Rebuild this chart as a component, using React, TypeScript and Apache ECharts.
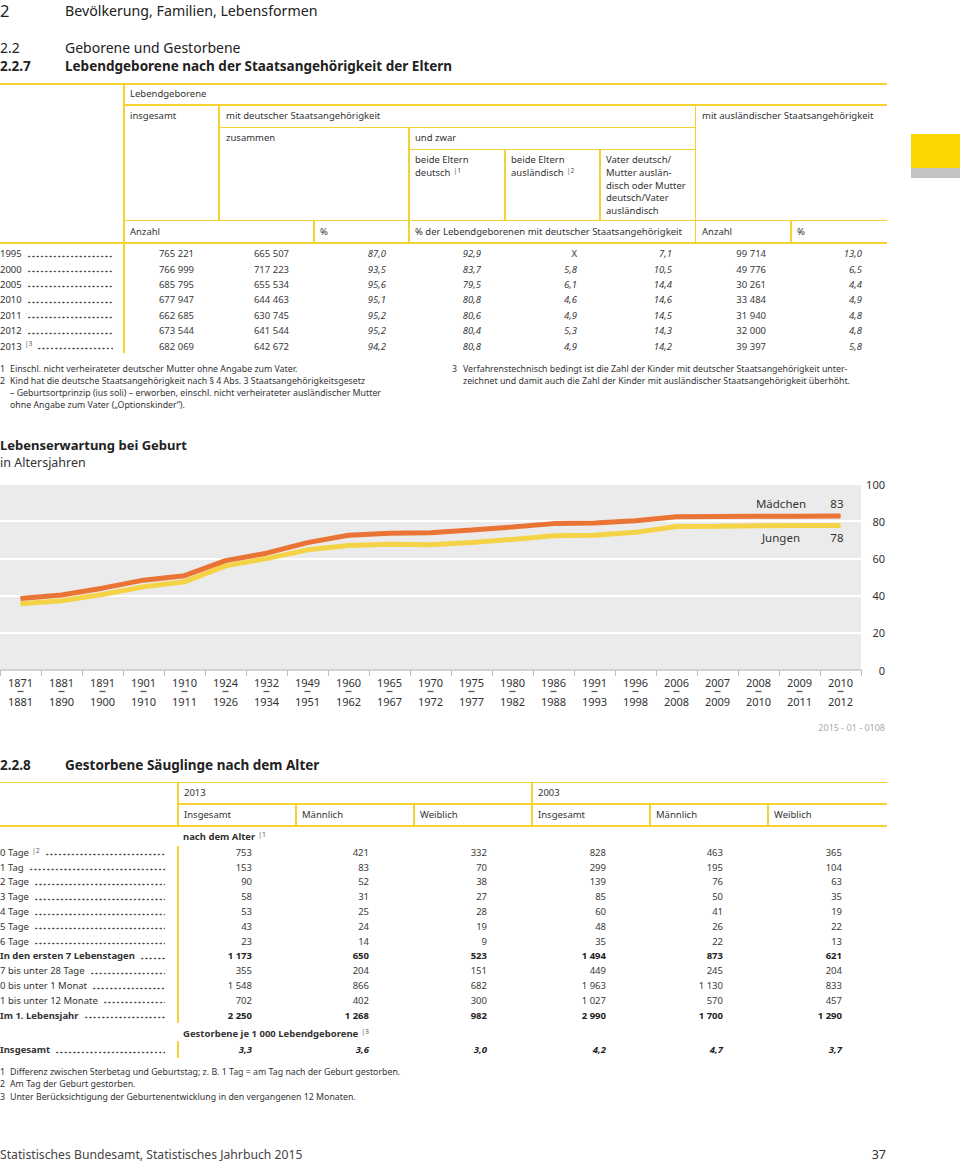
import React, { useEffect, useRef } from "react";
import * as echarts from "echarts";

// ---------- Chart data: Lebenserwartung bei Geburt ----------
const periodStart = ["1871","1881","1891","1901","1910","1924","1932","1949","1960","1965","1970","1975","1980","1986","1991","1996","2006","2007","2008","2009","2010"];
const periodEnd = ["1881","1890","1900","1910","1911","1926","1934","1951","1962","1967","1972","1977","1982","1988","1993","1998","2008","2009","2010","2011","2012"];
const girls = [38.5, 40.3, 44.0, 48.3, 50.7, 58.8, 62.8, 68.5, 72.4, 73.5, 73.8, 75.3, 76.9, 78.7, 79.0, 80.3, 82.4, 82.5, 82.6, 82.7, 82.8];
const boys = [35.6, 37.2, 40.6, 44.8, 47.4, 56.0, 59.9, 64.6, 66.9, 67.6, 67.4, 68.6, 70.2, 72.2, 72.5, 74.0, 77.2, 77.3, 77.5, 77.7, 77.7];
const girlsName = "Mädchen";
const boysName = "Jungen";
const girlsEnd = "83";
const boysEnd = "78";

// ---------- Table 2.2.7 ----------
const years227 = ["1995", "2000", "2005", "2010", "2011", "2012", "2013"];
const insgesamt227 = [765221, 766999, 685795, 677947, 662685, 673544, 682069];
const deutschAnzahl = [665507, 717223, 655534, 644463, 630745, 641544, 642672];
const deutschPct = [87.0, 93.5, 95.6, 95.1, 95.2, 95.2, 94.2];
const beideDeutsch = [92.9, 83.7, 79.5, 80.8, 80.6, 80.4, 80.8];
const beideAusl = [null, 5.8, 6.1, 4.6, 4.9, 5.3, 4.9];
const gemischt = [7.1, 10.5, 14.4, 14.6, 14.5, 14.3, 14.2];
const auslAnzahl = [99714, 49776, 30261, 33484, 31940, 32000, 39397];
const auslPct = [13.0, 6.5, 4.4, 4.9, 4.8, 4.8, 5.8];

// ---------- Table 2.2.8 ----------
const ageLabels = ["0 Tage", "1 Tag", "2 Tage", "3 Tage", "4 Tage", "5 Tage", "6 Tage", "In den ersten 7 Lebenstagen", "7 bis unter 28 Tage", "0 bis unter 1 Monat", "1 bis unter 12 Monate", "Im 1. Lebensjahr"];
const ageBold = [false, false, false, false, false, false, false, true, false, false, false, true];
const ins2013 = [753, 153, 90, 58, 53, 43, 23, 1173, 355, 1548, 702, 2250];
const mae2013 = [421, 83, 52, 31, 25, 24, 14, 650, 204, 866, 402, 1268];
const wei2013 = [332, 70, 38, 27, 28, 19, 9, 523, 151, 682, 300, 982];
const ins2003 = [828, 299, 139, 85, 60, 48, 35, 1494, 449, 1963, 1027, 2990];
const mae2003 = [463, 195, 76, 50, 41, 26, 22, 873, 245, 1130, 570, 1700];
const wei2003 = [365, 104, 63, 35, 19, 22, 13, 621, 204, 833, 457, 1290];
const rate = [3.3, 3.6, 3.0, 4.2, 4.7, 3.7];

const FONT = '"Noto Sans", "DejaVu Sans", sans-serif';
const YEL = "#f5d232";
const TXT = "#333";

const fmtInt = (n: number) => String(n).replace(/\B(?=(\d{3})+(?!\d))/g, " ");
const fmtDec = (n: number | null) => (n === null ? "X" : n.toFixed(1).replace(".", ","));

function T(p: any) {
  const size = p.size || 9.5;
  const st: any = {
    position: "absolute",
    top: p.y - size * 0.72,
    fontSize: size,
    lineHeight: `${Math.round(size * 1.4)}px`,
    whiteSpace: "nowrap",
    color: p.color || TXT,
    fontWeight: p.bold ? 700 : 400,
    fontStyle: p.italic ? "italic" : "normal",
  };
  if (p.align === "right") st.right = 960 - p.x;
  else st.left = p.x;
  return <div style={st}>{p.children}</div>;
}

function Sup({ n }: { n: string }) {
  return (
    <span style={{ fontSize: "0.72em", position: "relative", top: "-0.45em", lineHeight: 0, marginLeft: 3, color: "#555", fontWeight: 400 }}>
      |{n}
    </span>
  );
}

function HL({ x1, x2, y }: any) {
  return <div style={{ position: "absolute", left: x1, top: y - 0.75, width: x2 - x1, height: 1.5, background: YEL }} />;
}
function VL({ x, y1, y2 }: any) {
  return <div style={{ position: "absolute", left: x - 0.75, top: y1, width: 1.5, height: y2 - y1, background: YEL }} />;
}

// Row label followed by a dotted leader (dots drawn as a background, not as text)
function Leader({ x, y, w, bold, children, size = 9.5 }: any) {
  const lh = Math.round(size * 1.4);
  return (
    <div style={{ position: "absolute", left: x, top: y - size * 0.72, width: w, height: lh, display: "flex", whiteSpace: "nowrap", fontSize: size, lineHeight: `${lh}px`, color: TXT, fontWeight: bold ? 700 : 400 }}>
      <span>{children}</span>
      <span
        style={{
          flex: 1,
          marginLeft: 5,
          marginTop: lh - 5.5,
          height: 3,
          backgroundImage: "radial-gradient(circle, #444 0.8px, rgba(255,255,255,0) 1.1px)",
          backgroundSize: "4.3px 3px",
          backgroundRepeat: "repeat-x",
        }}
      />
    </div>
  );
}

function Chart() {
  const ref = useRef<HTMLDivElement>(null);
  useEffect(() => {
    if (!ref.current) return;
    const chart = echarts.init(ref.current, undefined, { renderer: "svg" });
    const last = girls.length - 1;
    const labelRich = {
      n: { width: 101, fontSize: 11.5, color: TXT, fontFamily: FONT },
      v: { width: 12, align: "right", fontSize: 11.5, color: TXT, fontFamily: FONT },
    };
    chart.setOption({
      animation: false,
      textStyle: { fontFamily: FONT },
      title: [
        { text: "Lebenserwartung bei Geburt", left: 0, top: 8, padding: 0, textStyle: { fontSize: 13, fontWeight: "bold", color: "#222", fontFamily: FONT } },
        { text: "in Altersjahren", left: 0, top: 26, padding: 0, textStyle: { fontSize: 12.5, fontWeight: "normal", color: "#333", fontFamily: FONT } },
        { text: "2015 - 01 - 0108", right: 75, top: 293, padding: 0, textStyle: { fontSize: 9, fontWeight: "normal", color: "#aaa", fontFamily: FONT } },
      ],
      grid: { left: 0, right: 99, top: 54, height: 186, show: true, backgroundColor: "#ebebeb", borderWidth: 0 },
      xAxis: {
        type: "category",
        data: periodStart.map((s, i) => s + "–" + periodEnd[i]),
        boundaryGap: true,
        axisLine: { lineStyle: { color: "#c4c4c4", width: 1.5 } },
        axisTick: { show: true, length: 6, interval: 0, lineStyle: { color: "#bdbdbd" } },
        axisLabel: {
          interval: 0,
          margin: 6,
          color: TXT,
          fontFamily: FONT,
          formatter: (v: string) => {
            const [a, b] = v.split("–");
            return `{a|${a}}\n{d| }\n{a|${b}}`;
          },
          rich: {
            a: { fontSize: 11, lineHeight: 12, color: TXT, fontFamily: FONT },
            d: { fontSize: 1, lineHeight: 7, width: 6, height: 1.3, backgroundColor: "#555" },
          },
        },
      },
      yAxis: {
        type: "value",
        min: 0,
        max: 100,
        interval: 20,
        position: "right",
        axisLine: { show: false },
        axisTick: { show: false },
        splitLine: { lineStyle: { color: "#ffffff", width: 2 } },
        axisLabel: { fontSize: 11, color: TXT, align: "right", margin: 24, fontFamily: FONT },
      },
      series: [
        {
          name: boysName,
          type: "line",
          symbol: "circle",
          symbolSize: 1,
          showSymbol: true,
          itemStyle: { color: "#f5d347" },
          lineStyle: { color: "#f5d347", width: 5 },
          data: boys.map((v, i) =>
            i === last
              ? { value: v, label: { show: true, position: "bottom", distance: 6, offset: [-53.5, 0], formatter: `{n|${boysName}}{v|${boysEnd}}`, rich: labelRich } }
              : v
          ),
          z: 2,
        },
        {
          name: girlsName,
          type: "line",
          symbol: "circle",
          symbolSize: 1,
          showSymbol: true,
          itemStyle: { color: "#ea7436" },
          lineStyle: { color: "#ea7436", width: 5 },
          data: girls.map((v, i) =>
            i === last
              ? { value: v, label: { show: true, position: "top", distance: 6, offset: [-53.5, 0], formatter: `{n|${girlsName}}{v|${girlsEnd}}`, rich: labelRich } }
              : v
          ),
          z: 3,
        },
      ],
    });
    return () => chart.dispose();
  }, []);
  return <div ref={ref} style={{ position: "absolute", left: 0, top: 430, width: 960, height: 320 }} />;
}

export default function App() {
  const rowY227 = (i: number) => 254 + i * 15.4;
  const colRight227 = [194, 289, 386, 481, 577, 672, 766, 862];
  const rowY228 = (i: number) => 852.7 + i * 14.8;
  const colRight228 = [252, 369, 487, 606, 723, 842];

  const cols227: any[] = [
    { d: insgesamt227, f: fmtInt, it: false },
    { d: deutschAnzahl, f: fmtInt, it: false },
    { d: deutschPct, f: fmtDec, it: true },
    { d: beideDeutsch, f: fmtDec, it: true },
    { d: beideAusl, f: fmtDec, it: true },
    { d: gemischt, f: fmtDec, it: true },
    { d: auslAnzahl, f: fmtInt, it: false },
    { d: auslPct, f: fmtDec, it: true },
  ];
  const cols228 = [ins2013, mae2013, wei2013, ins2003, mae2003, wei2003];
  const FN = 8.8;

  return (
    <div style={{ position: "absolute", left: 0, top: 0, width: 960, height: 1163, background: "#fff", fontFamily: FONT, overflow: "hidden" }}>
      <div style={{ position: "absolute", left: 911, top: 134, width: 49, height: 34, background: "#fdd500" }} />
      <div style={{ position: "absolute", left: 911, top: 168, width: 49, height: 10, background: "#c3c3c3" }} />

      <T x={0} y={11} size={16.5} color="#222">2</T>
      <T x={65} y={11} size={14.2} color="#222">Bevölkerung, Familien, Lebensformen</T>
      <T x={0} y={48} size={14} color="#222">2.2</T>
      <T x={65} y={48} size={14} color="#222">Geborene und Gestorbene</T>
      <T x={0} y={67} size={13.5} bold color="#222">2.2.7</T>
      <T x={65} y={67} size={13.5} bold color="#222">Lebendgeborene nach der Staatsangehörigkeit der Eltern</T>

      <HL x1={0} x2={887} y={84} />
      <HL x1={124} x2={887} y={105} />
      <HL x1={219} x2={695} y={127.5} />
      <HL x1={409} x2={695} y={149.5} />
      <HL x1={124} x2={887} y={220.5} />
      <HL x1={0} x2={887} y={243} />
      <VL x={124} y1={84} y2={353} />
      <VL x={219} y1={105} y2={220.5} />
      <VL x={409} y1={127.5} y2={243} />
      <VL x={314} y1={220.5} y2={243} />
      <VL x={505} y1={149.5} y2={220.5} />
      <VL x={600} y1={149.5} y2={220.5} />
      <VL x={695.5} y1={105} y2={243} />
      <VL x={791} y1={220.5} y2={243} />

      <T x={130} y={94}>Lebendgeborene</T>
      <T x={130} y={116}>insgesamt</T>
      <T x={226} y={116}>mit deutscher Staatsangehörigkeit</T>
      <T x={702} y={116}>mit ausländischer Staatsangehörigkeit</T>
      <T x={226} y={138}>zusammen</T>
      <T x={415} y={138}>und zwar</T>
      <T x={415} y={160}>beide Eltern</T>
      <T x={415} y={173}>deutsch<Sup n="1" /></T>
      <T x={511} y={160}>beide Eltern</T>
      <T x={511} y={173}>ausländisch<Sup n="2" /></T>
      <T x={606} y={160}>Vater deutsch/</T>
      <T x={606} y={173}>Mutter auslän-</T>
      <T x={606} y={185.5}>disch oder Mutter</T>
      <T x={606} y={198}>deutsch/Vater</T>
      <T x={606} y={211}>ausländisch</T>
      <T x={130} y={232}>Anzahl</T>
      <T x={320} y={232}>%</T>
      <T x={415} y={232}>% der Lebendgeborenen mit deutscher Staatsangehörigkeit</T>
      <T x={702} y={232}>Anzahl</T>
      <T x={797} y={232}>%</T>

      {years227.map((yr, i) => (
        <Leader key={"y" + i} x={0} y={rowY227(i)} w={113}>
          {yr}
          {i === years227.length - 1 ? <Sup n="3" /> : null}
        </Leader>
      ))}
      {cols227.map((c, ci) =>
        c.d.map((v: any, ri: number) => (
          <T key={`c${ci}-${ri}`} x={colRight227[ci]} y={rowY227(ri)} align="right" italic={c.it && v !== null} color="#3a3a3a">
            {c.f(v)}
          </T>
        ))
      )}

      <T x={0} y={369} size={FN}>1</T>
      <T x={10} y={369} size={FN}>Einschl. nicht verheirateter deutscher Mutter ohne Angabe zum Vater.</T>
      <T x={0} y={381} size={FN}>2</T>
      <T x={10} y={381} size={FN}>Kind hat die deutsche Staatsangehörigkeit nach § 4 Abs. 3 Staatsangehörigkeitsgesetz</T>
      <T x={10} y={393} size={FN}>– Geburtsortprinzip (ius soli) – erworben, einschl. nicht verheirateter ausländischer Mutter</T>
      <T x={10} y={405} size={FN}>ohne Angabe zum Vater („Optionskinder“).</T>
      <T x={452} y={369} size={FN}>3</T>
      <T x={463} y={369} size={FN}>Verfahrenstechnisch bedingt ist die Zahl der Kinder mit deutscher Staatsangehörigkeit unter-</T>
      <T x={463} y={381} size={FN}>zeichnet und damit auch die Zahl der Kinder mit ausländischer Staatsangehörigkeit überhöht.</T>

      <Chart />

      <T x={0} y={766} size={13.5} bold color="#222">2.2.8</T>
      <T x={65} y={766} size={13.5} bold color="#222">Gestorbene Säuglinge nach dem Alter</T>
      <HL x1={0} x2={887} y={782.5} />
      <HL x1={178} x2={887} y={804} />
      <HL x1={0} x2={887} y={826} />
      <VL x={178} y1={782.5} y2={826} />
      <VL x={296} y1={804} y2={826} />
      <VL x={414} y1={804} y2={826} />
      <VL x={532} y1={782.5} y2={826} />
      <VL x={650} y1={804} y2={826} />
      <VL x={768} y1={804} y2={826} />
      <T x={184} y={793}>2013</T>
      <T x={538} y={793}>2003</T>
      <T x={184} y={815}>Insgesamt</T>
      <T x={302} y={815}>Männlich</T>
      <T x={420} y={815}>Weiblich</T>
      <T x={538} y={815}>Insgesamt</T>
      <T x={656} y={815}>Männlich</T>
      <T x={774} y={815}>Weiblich</T>

      <T x={183} y={837} bold>nach dem Alter<Sup n="1" /></T>
      <VL x={178} y1={846} y2={1023} />
      {ageLabels.map((l, i) => (
        <Leader key={"a" + i} x={0} y={rowY228(i)} w={165} bold={ageBold[i]}>
          {l}
          {i === 0 ? <Sup n="2" /> : null}
        </Leader>
      ))}
      {cols228.map((c, ci) =>
        c.map((v, ri) => (
          <T key={`d${ci}-${ri}`} x={colRight228[ci]} y={rowY228(ri)} align="right" bold={ageBold[ri]} color={ageBold[ri] ? "#222" : "#3a3a3a"}>
            {fmtInt(v)}
          </T>
        ))
      )}
      <T x={183} y={1034} bold>Gestorbene je 1 000 Lebendgeborene<Sup n="3" /></T>
      <VL x={178} y1={1041} y2={1058} />
      <Leader x={0} y={1050} w={165} bold>Insgesamt</Leader>
      {rate.map((v, i) => (
        <T key={"r" + i} x={colRight228[i]} y={1050} align="right" bold italic color="#222">
          {fmtDec(v)}
        </T>
      ))}

      <T x={0} y={1072} size={FN}>1</T>
      <T x={10} y={1072} size={FN}>Differenz zwischen Sterbetag und Geburtstag; z. B. 1 Tag = am Tag nach der Geburt gestorben.</T>
      <T x={0} y={1084} size={FN}>2</T>
      <T x={10} y={1084} size={FN}>Am Tag der Geburt gestorben.</T>
      <T x={0} y={1097} size={FN}>3</T>
      <T x={10} y={1097} size={FN}>Unter Berücksichtigung der Geburtenentwicklung in den vergangenen 12 Monaten.</T>

      <T x={0} y={1155} size={12.2} color="#444">Statistisches Bundesamt, Statistisches Jahrbuch 2015</T>
      <T x={886} y={1155} size={12.5} align="right" color="#333">37</T>
    </div>
  );
}
